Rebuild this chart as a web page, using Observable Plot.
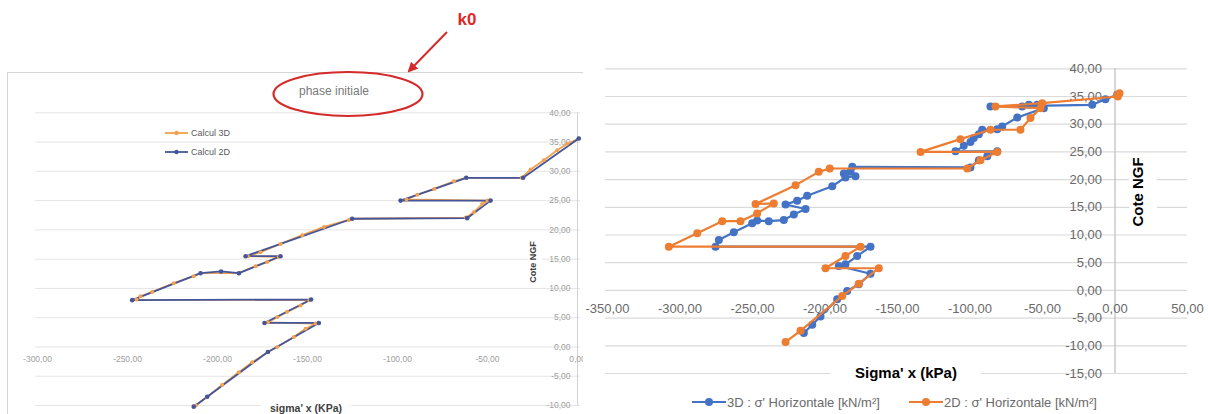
<!DOCTYPE html>
<html><head><meta charset="utf-8">
<script src="https://cdn.jsdelivr.net/npm/d3@7"></script>
<script src="https://cdn.jsdelivr.net/npm/@observablehq/plot@0.6"></script>
<style>
html,body{margin:0;padding:0;background:#fff;}
#page{position:relative;width:1208px;height:414px;overflow:hidden;background:#fff;font-family:"Liberation Sans",Arial,sans-serif;}
.abs{position:absolute;}
#leftClip{left:0;top:0;width:583px;height:414px;overflow:hidden;}
#frame{left:7px;top:72px;width:700px;height:400px;border:1px solid #d6d6d6;box-sizing:border-box;}
#rightClip{left:583px;top:0;width:625px;height:414px;overflow:hidden;}
#leftClip svg.plt{position:absolute;left:0;top:0;}
#rightClip svg.plt{position:absolute;left:-583px;top:0;}
.lbl{position:absolute;background:#fff;text-align:center;white-space:nowrap;}
</style></head><body><div id="page">
<div id="leftClip" class="abs"><div id="frame" class="abs"></div></div>
<div id="rightClip" class="abs"></div>
</div>
<script>
// ---------- LEFT chart data (Calcul 3D / Calcul 2D) ----------
const calc3D_sigma = [-212.0, -206.0, -197.4, -188.2, -180.7, -172.0, -166.8, -157.6, -151.1, -145.5, -172.0, -166.8, -161.3, -153.9, -149.0, -245.0, -242.8, -236.3, -224.3, -213.2, -209.4, -188.1, -178.9, -172.4, -166.0, -183.0, -176.1, -165.0, -152.9, -140.9, -127.0, -125.2, -62.0, -57.6, -53.0, -50.0, -95.0, -89.0, -79.6, -68.7, -62.0, -31.0, -26.1, -18.7, -11.3, -5.7, 0.7];
const calc3D_cote = [-10.0, -8.6, -6.5, -4.3, -2.6, -0.85, 0.0, 1.7, 3.1, 4.0, 4.2, 5.1, 6.0, 7.1, 8.0, 8.1, 8.65, 9.4, 10.9, 12.1, 12.6, 12.6, 13.8, 14.5, 15.4, 15.5, 16.2, 17.6, 19.1, 20.5, 21.7, 21.9, 22.1, 23.0, 24.4, 25.0, 25.2, 26.0, 27.0, 28.3, 28.9, 28.9, 30.3, 31.9, 33.6, 34.7, 35.6];
const calc2D_sigma = [-213.2, -205.7, -172.0, -143.7, -173.9, -148.0, -247.4, -209.4, -198.0, -188.1, -165.0, -184.4, -125.2, -61.3, -48.3, -98.3, -61.8, -30.2, 0.7];
const calc2D_cote = [-10.2, -8.5, -0.85, 4.1, 4.1, 8.1, 8.0, 12.6, 12.9, 12.6, 15.5, 15.5, 21.9, 22.0, 25.0, 25.0, 28.9, 28.9, 35.6];
const leftXTicks = [-300, -250, -200, -150, -100, -50, 0];
const leftYTicks = [-10, -5, 0, 5, 10, 15, 20, 25, 30, 35, 40];
const leftSeries = ["Calcul 3D", "Calcul 2D"];

// ---------- RIGHT chart data ----------
const h3D_sigma = [1.5, -6.6, -15.7, -85.9, -64.0, -59.4, -53.7, -49.1, -67.4, -77.8, -81.2, -91.6, -93.9, -97.4, -99.7, -104.3, -110.0, -81.2, -88.1, -93.9, -99.7, -181.2, -187.0, -182.4, -179.0, -185.9, -195.0, -212.3, -219.2, -227.2, -213.4, -221.5, -228.4, -238.8, -246.8, -250.2, -262.9, -273.2, -275.5, -168.6, -177.8, -185.9, -190.5, -168.6, -176.7, -184.7, -191.6, -203.1, -208.8, -214.6];
const h3D_cote = [35.3, 34.5, 33.5, 33.2, 33.2, 33.5, 33.5, 32.9, 31.2, 29.6, 29.1, 29.0, 28.2, 27.5, 26.8, 26.1, 25.1, 25.1, 24.2, 23.5, 22.2, 22.3, 21.1, 21.4, 20.6, 20.4, 18.8, 17.1, 16.2, 15.5, 14.7, 13.7, 12.7, 12.5, 12.6, 12.1, 10.5, 9.1, 7.9, 7.9, 6.2, 4.7, 4.4, 3.0, 1.1, -0.1, -1.6, -4.7, -6.2, -7.7];
const h2D_sigma = [3.1, 1.5, 2.0, -50.2, -82.4, -51.4, -58.3, -65.2, -85.9, -106.6, -134.1, -81.2, -92.8, -101.9, -196.7, -204.3, -220.3, -247.9, -235.3, -246.8, -258.3, -270.9, -288.1, -307.7, -175.5, -185.9, -199.7, -162.9, -176.7, -188.1, -216.9, -227.2];
const h2D_cote = [35.6, 35.2, 35.0, 33.8, 33.2, 32.9, 31.1, 29.0, 29.0, 27.3, 25.0, 25.0, 23.5, 22.0, 22.0, 21.4, 19.0, 15.6, 15.7, 13.9, 12.5, 12.5, 10.3, 7.9, 7.9, 6.2, 4.0, 4.0, 1.2, -1.0, -7.3, -9.3];
const rightXTicks = [-350, -300, -250, -200, -150, -100, -50, 0, 50];
const rightYTicks = [-15, -10, -5, 0, 5, 10, 15, 20, 25, 30, 35, 40];
const rightSeries = ["3D : σ' Horizontale [kN/m²]", "2D : σ' Horizontale [kN/m²]"];

// ---------- texts ----------
const leftTitle = "phase initiale";
const annotation = "k0";
const leftXLabel = "sigma' x (KPa)";
const leftYLabel = "Cote NGF";
const rightXLabel = "Sigma' x (kPa)";
const rightYLabel = "Cote NGF";

const fmt = v => v.toFixed(2).replace(".", ",");
const rows = (xs, ys) => xs.map((x, i) => ({sigma: x, cote: ys[i]}));
const L3 = rows(calc3D_sigma, calc3D_cote), L2 = rows(calc2D_sigma, calc2D_cote);
const R3 = rows(h3D_sigma, h3D_cote), R2 = rows(h2D_sigma, h2D_cote);

const cOrL = "#f2a14e", cBlL = "#44559b";
const cBlR = "#4472c4", cOrR = "#ed7d31";
const baseStyle = {background: "transparent", maxWidth: "none", overflow: "visible", fontFamily: "'Liberation Sans', Arial, sans-serif"};

const left = Plot.plot({
  width: 1208, height: 414, margin: 0,
  style: baseStyle,
  x: {domain: [-300, 0], range: [37, 577], axis: null},
  y: {domain: [-10, 40], range: [405, 112.3], axis: null},
  marks: [
    Plot.ruleY(leftYTicks, {y: d => d, x1: -301, x2: 1.7, stroke: "#e4e4e4", strokeWidth: 1}),
    Plot.ruleX([0], {y1: -10, y2: 40, stroke: "#d2d2d2"}),
    Plot.text(leftYTicks, {x: 0, y: d => d, text: fmt, textAnchor: "end", dx: -7, fontSize: 8.5, fill: "#a0a0a0"}),
    Plot.text(leftXTicks, {x: d => d, y: 0, text: fmt, dy: 12.5, fontSize: 8.5, fill: "#a0a0a0"}),
    Plot.line(L3, {x: "sigma", y: "cote", stroke: cOrL, strokeWidth: 1.8}),
    Plot.line(L2, {x: "sigma", y: "cote", stroke: cBlL, strokeWidth: 1.8, curve: "linear"}),
    Plot.dot(L3, {x: "sigma", y: "cote", r: 2, fill: cOrL}),
    Plot.dot(L2, {x: "sigma", y: "cote", r: 2.3, fill: cBlL})
  ]
});
left.classList.add("plt");
document.getElementById("leftClip").appendChild(left);

const right = Plot.plot({
  width: 1208, height: 414, margin: 0,
  style: baseStyle,
  x: {domain: [-350, 50], range: [607, 1187], axis: null},
  y: {domain: [-15, 40], range: [373, 68.3], axis: null},
  marks: [
    Plot.ruleY(rightYTicks, {y: d => d, x1: -351.4, x2: 50, stroke: "#dadada", strokeWidth: 1.2}),
    Plot.ruleX([0], {y1: -15, y2: 40, stroke: "#bdbdbd", strokeWidth: 1.2}),
    Plot.text(rightYTicks, {x: 0, y: d => d, text: fmt, textAnchor: "end", dx: -13, fontSize: 13, fill: "#6a6a6a"}),
    Plot.text(rightXTicks, {x: d => d, y: 0, text: fmt, dy: 18.5, fontSize: 13, fill: "#6a6a6a"}),
    Plot.line(R3, {x: "sigma", y: "cote", stroke: cBlR, strokeWidth: 2.2}),
    Plot.dot(R3, {x: "sigma", y: "cote", r: 4, fill: cBlR}),
    Plot.line(R2, {x: "sigma", y: "cote", stroke: cOrR, strokeWidth: 2.2}),
    Plot.dot(R2, {x: "sigma", y: "cote", r: 4, fill: cOrR})
  ]
});
right.classList.add("plt");
document.getElementById("rightClip").appendChild(right);

const page = document.getElementById("page");
function addLabel(text, css) {
  const d = document.createElement("div");
  d.className = "lbl";
  d.textContent = text;
  Object.assign(d.style, css);
  page.appendChild(d);
  return d;
}
// right axis titles
addLabel(rightYLabel, {left: "1143px", top: "192px", width: "78px", height: "28px", lineHeight: "28px",
  transform: "translate(-50%,-50%) rotate(-90deg)", font: "bold 15px 'Liberation Sans', Arial, sans-serif", color: "#000"});
addLabel(rightXLabel, {left: "906px", top: "373px", width: "151px", height: "18px", lineHeight: "18px",
  transform: "translate(-50%,-50%)", font: "bold 15px 'Liberation Sans', Arial, sans-serif", color: "#000"});
// left axis titles
addLabel(leftYLabel, {left: "535px", top: "262px", width: "52px", height: "14px", lineHeight: "14px",
  transform: "translate(-50%,-50%) rotate(-90deg)", font: "bold 9px 'Liberation Sans', Arial, sans-serif", color: "#404040"});
addLabel(leftXLabel, {left: "306px", top: "408px", width: "90px", height: "12px", lineHeight: "12px",
  transform: "translate(-50%,-50%)", font: "bold 10.5px 'Liberation Sans', Arial, sans-serif", color: "#404040"});

// left legend
[[leftSeries[0], cOrL, 133], [leftSeries[1], cBlL, 152]].forEach(([t, c, y]) => {
  const d = document.createElement("div");
  d.className = "abs";
  Object.assign(d.style, {left: "165px", top: (y - 7) + "px", height: "14px", display: "flex", alignItems: "center",
    font: "9px 'Liberation Sans', Arial, sans-serif", color: "#595959"});
  d.innerHTML = `<svg width="23" height="14" style="margin-right:3px"><line x1="0" y1="7" x2="23" y2="7" stroke="${c}" stroke-width="1.8"/><circle cx="11.5" cy="7" r="2.2" fill="${c}"/></svg><span></span>`;
  d.querySelector("span").textContent = t;
  page.appendChild(d);
});
// right legend
[[rightSeries[0], cBlR, 692], [rightSeries[1], cOrR, 909]].forEach(([t, c, x]) => {
  const d = document.createElement("div");
  d.className = "abs";
  Object.assign(d.style, {left: x + "px", top: "394px", height: "16px", display: "flex", alignItems: "center",
    font: "13px 'Liberation Sans', Arial, sans-serif", color: "#6a6a6a"});
  d.innerHTML = `<svg width="34" height="16" style="margin-right:1px"><line x1="0" y1="8" x2="34" y2="8" stroke="${c}" stroke-width="2.2"/><circle cx="17" cy="8" r="4" fill="${c}"/></svg><span></span>`;
  d.querySelector("span").textContent = t;
  page.appendChild(d);
});

// annotation overlay (title, ellipse, arrow, k0)
const ns = "http://www.w3.org/2000/svg";
const ov = document.createElementNS(ns, "svg");
ov.setAttribute("width", 1208); ov.setAttribute("height", 414);
ov.style.cssText = "position:absolute;left:0;top:0;pointer-events:none;";
ov.innerHTML = `
<defs><marker id="ah" viewBox="0 0 10 10" refX="8" refY="5" markerWidth="5" markerHeight="5" orient="auto"><path d="M0,0L10,5L0,10z" fill="#d42a2a"/></marker></defs>
<text x="334" y="95" text-anchor="middle" font-family="'Liberation Sans', Arial, sans-serif" font-size="12" fill="#7a7a7a"></text>
<ellipse cx="348" cy="94" rx="74.5" ry="22" fill="none" stroke="#d42a2a" stroke-width="2.2"/>
<line x1="447" y1="32" x2="409" y2="71" stroke="#d42a2a" stroke-width="2" marker-end="url(#ah)"/>
<text x="467" y="25" text-anchor="middle" font-family="'Liberation Sans', Arial, sans-serif" font-weight="bold" font-size="17" fill="#e02828"></text>`;
const tx = ov.querySelectorAll("text");
tx[0].textContent = leftTitle;
tx[1].textContent = annotation;
page.appendChild(ov);
</script>
</body></html>
